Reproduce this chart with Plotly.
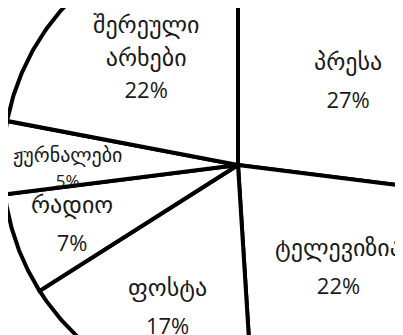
import numpy as np
import plotly.graph_objects as go

# ringo: share of each channel, clockwise from 12 o'clock
categories = ['პრესა', 'ტელევიზია', 'ფოსტა', 'რადიო', 'ჟურნალები', 'შერეული არხები']
shares = [27, 22, 17, 7, 5, 22]
label_names = ['პრესა', 'ტელევიზია', 'ფოსტა', 'რადიო', 'ჟურნალები', 'შერეული<br>არხები']

# the picture is a crop of a bigger pie, so it is drawn on pixel-sized axes
# (page coords: the body margin pushes the figure 8px right/down)
W, H = 403, 335
OFF = 8
CX, CY, R = 238, 165, 235
label_pos = [(348, 81), (338, 267), (167, 307), (72, 224), (67, 167), (146, 57)]
line_h = [29, 29, 29, 29, 19, 25]     # base font size -> line spacing
name_size = [24, 24, 24, 24, 20, 24]
num_size = [22, 22, 22, 22, 17, 22]

fig = go.Figure()

ends = np.cumsum(shares) / np.sum(shares) * 360
starts = np.concatenate([[0], ends[:-1]])
for cat, a0, a1 in zip(categories, starts, ends):
    t = np.radians(np.linspace(a0, a1, 120))
    xs = np.concatenate([[CX], CX + R * np.sin(t), [CX]])
    ys = np.concatenate([[CY], CY - R * np.cos(t), [CY]])
    fig.add_trace(go.Scatter(
        x=xs, y=ys, name=cat,
        mode='lines', fill='toself', fillcolor='white',
        line=dict(color='black', width=4),
        hoverinfo='name'
    ))

for name, v, (lx, ly), lh, fs, ns in zip(label_names, shares, label_pos, line_h, name_size, num_size):
    parts = ["<span style='font-size:{}px'>{}</span>".format(fs, p) for p in name.split('<br>')]
    parts.append("<span style='font-family:Open Sans;font-size:{}px'>{}%</span>".format(ns, v))
    fig.add_annotation(
        x=lx, y=ly, xref='x', yref='y', showarrow=False,
        text='<br>'.join(parts),
        font=dict(family='DejaVu Sans', size=lh, color='#1a1a1a'),
        xanchor='center', yanchor='middle', align='center'
    )

fig.update_xaxes(range=[OFF, W + OFF], visible=False, fixedrange=True)
fig.update_yaxes(range=[H + OFF, OFF], visible=False, fixedrange=True)
fig.update_layout(
    width=W, height=H,
    margin=dict(l=0, r=0, t=0, b=0),
    showlegend=False,
    plot_bgcolor='white', paper_bgcolor='white'
)

fig.write_html("out.html")
